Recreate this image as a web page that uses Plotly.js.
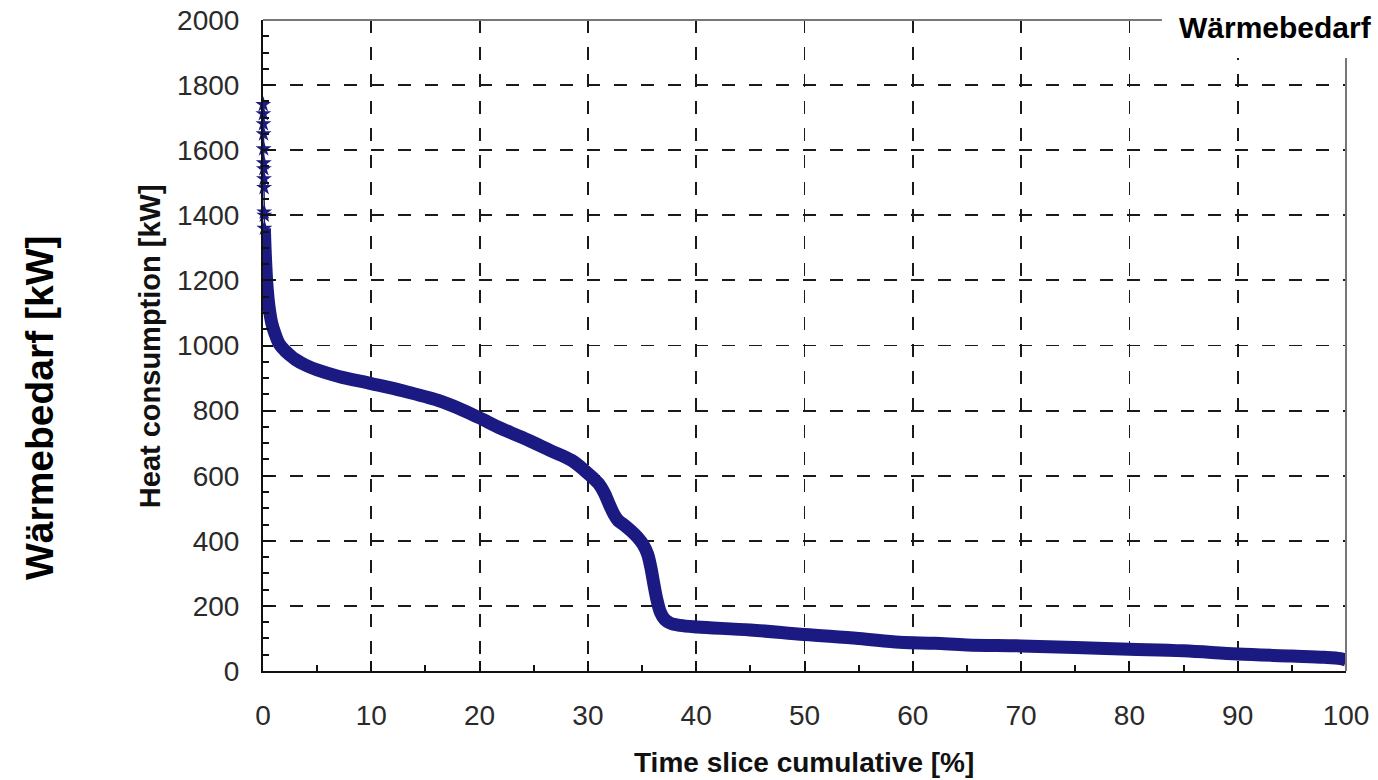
<!DOCTYPE html>
<html>
<head>
<meta charset="utf-8">
<script src="https://cdn.plot.ly/plotly-3.0.1.min.js"></script>
<style>
html,body{margin:0;padding:0;background:#fff;}
#chart{width:1378px;height:780px;}
</style>
</head>
<body>
<div id="chart"></div>
<script>
// Peak hours near 0 % (individual points)
const peakX = [0.02, 0.03, 0.04, 0.05, 0.06, 0.07, 0.08, 0.09, 0.10, 0.11, 0.12, 0.13];
const peakY = [1740, 1712, 1681, 1650, 1604, 1561, 1543, 1512, 1485, 1410, 1400, 1360];

// Load duration curve (cumulative time slice % vs heat consumption kW)
const curveX = [0.13, 0.2, 0.3, 0.4, 0.55, 0.8, 1.1, 1.5, 2.0, 2.5, 3.0, 3.9, 5, 7, 10, 13, 16.2, 18, 19.9, 22, 23.9, 26.5, 28.5, 29.9, 30.5, 31.0, 31.5, 32.0, 32.4, 32.8, 33.3, 34.0, 34.6, 35.1, 35.5, 35.8, 36.1, 36.4, 36.7, 37.1, 37.6, 38.5, 40.1, 45, 50, 55, 58.8, 62, 65, 70, 75, 80, 85, 90, 95, 98, 99.5, 100];
const curveY = [1360, 1290, 1220, 1170, 1120, 1070, 1037, 1005, 985, 970, 957, 940, 925, 905, 883, 860, 831, 808, 779, 745, 718, 678, 647, 610, 592, 575, 548, 510, 482, 462, 450, 430, 410, 388, 360, 320, 265, 215, 180, 158, 147, 140, 135, 126, 112, 100, 88, 85, 80, 77, 72, 67, 62, 52, 46, 42, 38, 34];

const xTicks = [0, 10, 20, 30, 40, 50, 60, 70, 80, 90, 100];
const yTicks = [0, 200, 400, 600, 800, 1000, 1200, 1400, 1600, 1800, 2000];

const xTitle = 'Time slice cumulative [%]';
const yTitle = 'Heat consumption [kW]';
const outerYTitle = 'Wärmebedarf [kW]';
const cornerLabel = 'Wärmebedarf';

const navy = '#1a1a82';
const fam = 'Liberation Sans, Arial, sans-serif';

const traces = [
  {
    x: curveX, y: curveY, type: 'scatter', mode: 'lines',
    line: {color: navy, width: 13, shape: 'spline', smoothing: 1},
    hoverinfo: 'skip', showlegend: false
  },
  {
    x: peakX, y: peakY, type: 'scatter', mode: 'lines+markers',
    line: {color: navy, width: 1.5},
    marker: {color: navy, size: 12, symbol: 'star'},
    cliponaxis: false,
    hoverinfo: 'skip', showlegend: false
  }
];

const gridCommon = {
  showgrid: true, gridcolor: '#1a1a1a', gridwidth: 1.8, griddash: '13px,14px',
  zeroline: false, showline: true, linecolor: '#111', linewidth: 2,
  ticks: 'inside', ticklen: 10, tickwidth: 2, tickcolor: '#111',
  tickfont: {family: fam, size: 28, color: '#2a2a2a'}
};

const layout = {
  width: 1378, height: 780,
  margin: {l: 263, r: 32, t: 20, b: 109},
  paper_bgcolor: '#ffffff', plot_bgcolor: '#ffffff',
  showlegend: false,
  xaxis: Object.assign({}, gridCommon, {
    range: [0, 100], tickvals: xTicks, ticktext: xTicks.map(String),
    ticklabelstandoff: 18,
    minor: {dtick: 5, tick0: 0, ticks: 'inside', ticklen: 6, tickwidth: 2, tickcolor: '#111', showgrid: false}
  }),
  yaxis: Object.assign({}, gridCommon, {
    range: [0, 2000], tickvals: yTicks, ticktext: yTicks.map(String),
    ticklabelstandoff: 16,
    minor: {dtick: 50, tick0: 0, ticks: 'inside', ticklen: 6, tickwidth: 2, tickcolor: '#111', showgrid: false}
  }),
  shapes: [
    {type: 'line', xref: 'paper', yref: 'paper', x0: 0, x1: 1, y0: 1, y1: 1, line: {color: '#777', width: 2}, layer: 'above'},
    {type: 'line', xref: 'paper', yref: 'paper', x0: 1, x1: 1, y0: 0, y1: 1, line: {color: '#777', width: 2}, layer: 'above'},
    {type: 'rect', xref: 'paper', yref: 'paper', x0: 0.830, x1: 1.04, y0: 0.9416, y1: 1.04, fillcolor: '#ffffff', line: {width: 0}, layer: 'above'}
  ],
  annotations: [
    {text: xTitle, xref: 'paper', yref: 'paper', x: 0.4996, y: -0.1413, xanchor: 'center', yanchor: 'middle', showarrow: false,
     font: {family: fam, size: 28, color: '#111', weight: 'bold'}},
    {text: yTitle, xref: 'paper', yref: 'paper', x: -0.1043, y: 0.499, xanchor: 'center', yanchor: 'middle', textangle: -90, showarrow: false,
     font: {family: fam, size: 29, color: '#111', weight: 'bold'}},
    {text: outerYTitle, xref: 'paper', yref: 'paper', x: -0.2059, y: 0.404, xanchor: 'center', yanchor: 'middle', textangle: -90, showarrow: false,
     font: {family: fam, size: 39, color: '#000', weight: 'bold'}},
    {text: cornerLabel, xref: 'paper', yref: 'paper', x: 0.935, y: 0.988, xanchor: 'center', yanchor: 'middle', showarrow: false,
     font: {family: fam, size: 30, color: '#000', weight: 'bold'}}
  ]
};

Plotly.newPlot('chart', traces, layout, {displayModeBar: false, staticPlot: true});
</script>
</body>
</html>
